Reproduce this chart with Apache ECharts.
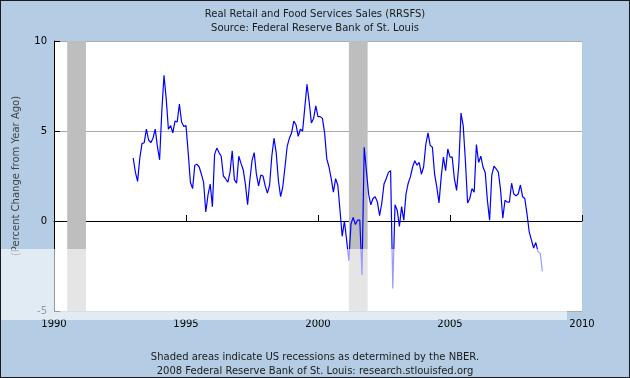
<!DOCTYPE html>
<html><head><meta charset="utf-8">
<script src="https://cdn.jsdelivr.net/npm/echarts@6/dist/echarts.min.js"></script>
<style>
html,body{margin:0;padding:0;background:#b4cde4;}
#c{width:630px;height:378px;box-sizing:border-box;border:1px solid #1a1a1a;}
</style></head>
<body><div id="c"></div>
<script>
// Monthly series starting Jan 1993 (percent change from year ago)
var startYear = 1993;
var values = [
 3.5, 2.7, 2.2, 3.5, 4.3, 4.35, 5.1, 4.5, 4.35, 4.6, 5.1, 4.15,
 3.4, 6.1, 8.1, 6.8, 5.1, 5.3, 4.9, 5.55, 5.5, 6.5, 5.5, 5.25,
 5.3, 3.8, 2.15, 1.8, 3.1, 3.15, 3.0, 2.6, 2.15, 0.5, 1.45, 2.05,
 0.8, 3.7, 4.05, 3.8, 3.6, 2.5, 2.35, 2.15, 2.7, 3.9, 2.3, 2.1,
 3.6, 3.2, 2.85, 2.05, 0.9, 2.25, 3.35, 3.8, 2.6, 1.95, 2.55, 2.5,
 1.95, 1.55, 2.0, 3.6, 4.6, 3.8, 2.25, 1.35, 1.9, 3.0, 4.15, 4.6,
 4.9, 5.55, 5.35, 4.7, 5.1, 5.0, 6.3, 7.6, 6.6, 5.45, 5.7, 6.4,
 5.8, 5.8, 5.7, 4.9, 3.45, 3.0, 2.35, 1.6, 2.35, 2.0, 0.6, -0.85,
 0.0, -1.05, -2.2, -0.15, 0.2, -0.2, 0.05, 0.05, -3.0, 4.1, 2.8, 1.5,
 0.9, 1.25, 1.35, 1.05, 0.3, 1.0, 2.05, 2.35, 2.7, 2.8, -3.75, 0.9,
 0.6, -0.3, 0.8, 0.05, 1.5, 2.1, 2.45, 3.0, 3.35, 3.1, 3.25, 2.6,
 3.0, 4.25, 4.9, 4.2, 4.1, 2.6, 1.9, 1.0, 2.45, 3.55, 2.8, 4.0,
 3.55, 3.55, 2.35, 1.7, 3.1, 6.0, 5.3, 3.35, 1.0, 1.25, 1.8, 1.6,
 4.25, 3.25, 3.6, 3.0, 2.7, 1.15, 0.05, 2.55, 3.05, 2.9, 2.7, 1.7,
 0.15, 1.15, 1.05, 1.05, 2.1, 1.5, 1.4, 1.5, 2.0, 1.35, 1.25, 0.4,
 -0.6, -1.05, -1.5, -1.2, -1.7, -1.8, -2.8
];
var recessions = [[1990.5, 1991.21], [2001.17, 2001.88]];
var xTicks = [1990, 1995, 2000, 2005, 2010];
var yTicks = [-5, 0, 5, 10];
var titleText = 'Real Retail and Food Services Sales (RRSFS)';
var subText = 'Source: Federal Reserve Bank of St. Louis';
var yName = '(Percent Change from Year Ago)';
var foot1 = 'Shaded areas indicate US recessions as determined by the NBER.';
var foot2 = '2008 Federal Reserve Bank of St. Louis: research.stlouisfed.org';

var seriesData = values.map(function(v, i){ return [startYear + i/12, v]; });
var FONT = 'DejaVu Sans';
var chart = echarts.init(document.getElementById('c'), null, {renderer:'canvas'});
chart.setOption({
  animation:false,
  backgroundColor:'#b4cde4',
  title:[
    {text:titleText, left:'center', top:3, textStyle:{fontFamily:FONT,fontSize:10,fontWeight:'normal',color:'#1a1a1a'}},
    {text:subText, left:'center', top:17, textStyle:{fontFamily:FONT,fontSize:10,fontWeight:'normal',color:'#1a1a1a'}},
    {text:foot1, left:'center', top:346, textStyle:{fontFamily:FONT,fontSize:10,fontWeight:'normal',color:'#1a1a1a'}},
    {text:foot2, left:'center', top:360, textStyle:{fontFamily:FONT,fontSize:10,fontWeight:'normal',color:'#1a1a1a'}}
  ],
  grid:{left:53, right:47, top:40, bottom:66, show:true, backgroundColor:'#ffffff', borderWidth:0},
  xAxis:{type:'value', min:xTicks[0], max:xTicks[xTicks.length-1], interval:5,
    axisLine:{show:true, lineStyle:{color:'#000', width:1}},
    axisTick:{show:true, inside:true, length:6, lineStyle:{color:'#000'}},
    axisLabel:{color:'#000', fontFamily:FONT, fontSize:10, margin:8, formatter:function(v){return String(v);}},
    splitLine:{show:false}},
  yAxis:{type:'value', min:yTicks[0], max:yTicks[yTicks.length-1], interval:5,
    name:yName, nameLocation:'middle', nameGap:33, nameRotate:90,
    nameTextStyle:{color:'#444', fontFamily:FONT, fontSize:10},
    axisLine:{show:true, onZero:false, lineStyle:{color:'#000', width:1}},
    axisTick:{show:true, inside:true, length:6, lineStyle:{color:'#000'}},
    axisLabel:{color:'#000', fontFamily:FONT, fontSize:10, margin:7},
    splitLine:{show:true, lineStyle:{color:'#aaaaaa', width:1}}},
  series:[
    {type:'line', data:[], silent:true,
     markArea:{silent:true, itemStyle:{color:'#bebebe'},
       data: recessions.map(function(r){ return [{xAxis:r[0]},{xAxis:r[1]}]; })}},
    {type:'line', data:seriesData, showSymbol:false, symbol:'none',
     lineStyle:{color:'#0000ff', width:1.2}, z:5}
  ],
  graphic:[
    {type:'rect', shape:{x:0, y:248, width:566, height:71}, style:{fill:'rgba(255,255,255,0.6)'}, z:100, silent:true}
  ]
});
</script></body></html>
